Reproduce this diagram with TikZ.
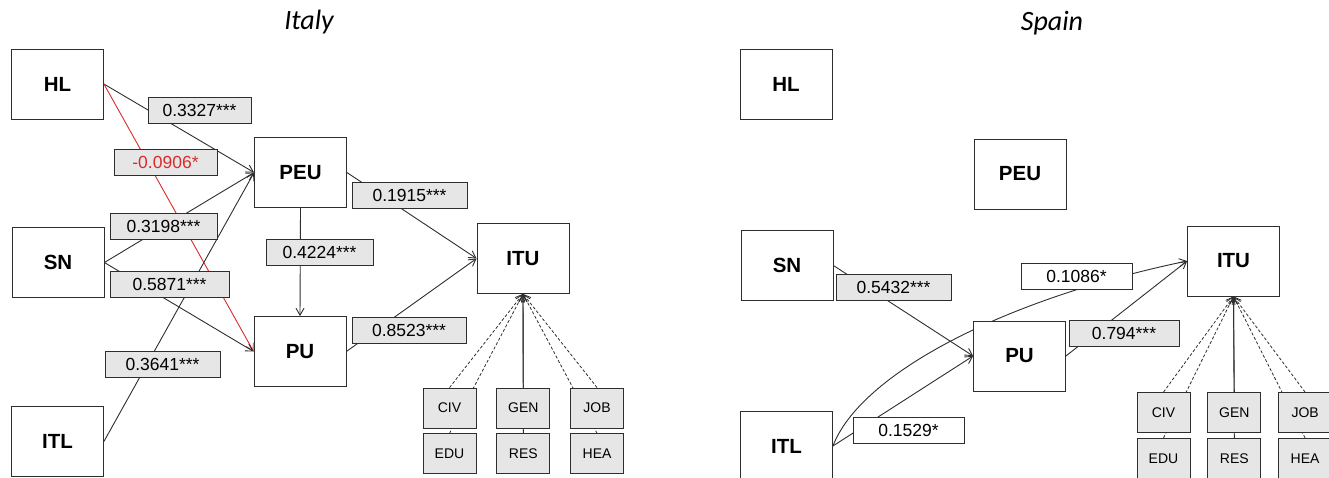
\documentclass[tikz,border=0pt]{standalone}
\usepackage{fontspec}
\setmainfont{Liberation Sans}
\newfontfamily\titlefont{Carlito}
\usetikzlibrary{positioning}
\usetikzlibrary{backgrounds}
\usetikzlibrary{arrows.meta}
\definecolor{coeffill}{HTML}{E6E6E6}
\definecolor{linegray}{HTML}{2E2E2E}
\definecolor{negred}{HTML}{D92B2B}
\tikzset{
  latent/.style={draw=linegray, fill=white, line width=0.8pt, rectangle, minimum width=92pt, minimum height=70pt, inner sep=0pt, font=\fontsize{20.5}{22}\selectfont\bfseries},
  coef/.style={draw=linegray, fill=coeffill, line width=0.8pt, rectangle, minimum width=110pt, minimum height=26pt, inner sep=0pt, font=\fontsize{17.5}{19}\selectfont},
  indicator/.style={draw=linegray, fill=coeffill, line width=0.8pt, rectangle, minimum width=53pt, minimum height=40pt, inner sep=0pt, font=\fontsize{14}{15}\selectfont},
  effect/.style={->, draw=linegray, line width=0.9pt},
  loading/.style={->, draw=linegray, line width=0.8pt, dash pattern=on 3pt off 2pt},
  countrytitle/.style={font=\titlefont\itshape\fontsize{28}{30}\selectfont},
}
\begin{document}
\begin{tikzpicture}[x=1pt, y=-1pt, >={Straight Barb[length=7pt,width=8pt]}]
\useasboundingbox (0,0) rectangle (1329,477);
\node[countrytitle] (titleIT) at (309,22) {Italy};
\node[latent] (HL) at (57.5,84) {HL};
\node[latent] (PEU) at (300.5,172.5) {PEU};
\node[latent] (SN) at (58,262.5) {SN};
\node[latent] (PU) at (300,351.5) {PU};
\node[latent] (ITL) at (57.5,441.5) {ITL};
\node[latent] (ITU) at (523,258.5) {ITU};
\node[indicator] (CIV) at (449.5,408) {CIV};
\node[indicator] (GEN) [right=20pt of CIV] {GEN};
\node[indicator] (JOB) [right=20pt of GEN] {JOB};
\node[indicator] (EDU) [below=5pt of CIV] {EDU};
\node[indicator] (RES) [below=5pt of GEN] {RES};
\node[indicator] (HEA) [below=5pt of JOB] {HEA};
\node[countrytitle] (titleES) at (1052,23) {Spain};
\node[latent] (HLsp) at (786,84) {HL};
\node[latent] (PEUsp) at (1020,174) {PEU};
\node[latent] (SNsp) at (787,265.5) {SN};
\node[latent] (PUsp) at (1019.5,356) {PU};
\node[latent] (ITLsp) at (786.5,446) {ITL};
\node[latent] (ITUsp) at (1233.5,261) {ITU};
\node[indicator] (CIVsp) at (1163.5,412.5) {CIV};
\node[indicator] (GENsp) [right=17pt of CIVsp] {GEN};
\node[indicator] (JOBsp) [right=17pt of GENsp] {JOB};
\node[indicator] (EDUsp) [below=5pt of CIVsp] {EDU};
\node[indicator] (RESsp) [below=5pt of GENsp] {RES};
\node[indicator] (HEAsp) [below=5pt of JOBsp] {HEA};
\begin{scope}[on background layer]
\draw[effect] (HL.east) -- (PEU.west);
\draw[effect, draw=negred] (HL.east) -- (PU.west);
\draw[effect] (SN.east) -- (PEU.west);
\draw[effect] (SN.east) -- (PU.west);
\draw[effect] (ITL.east) -- (PEU.west);
\draw[effect] (PEU.south) -- (PU.north);
\draw[effect] (PEU.east) -- (ITU.west);
\draw[effect] (PU.east) -- (ITU.west);
\foreach \ind in {CIV,EDU,JOB,HEA} \draw[loading] (\ind.north) -- (ITU.south);
\foreach \ind in {GEN,RES} \draw[effect] (\ind.north) -- (ITU.south);
\draw[effect] (SNsp.east) -- (PUsp.west);
\draw[effect] (ITLsp.east) -- (PUsp.west);
\draw[effect] (ITLsp.east) .. controls (860,375) and (1000,300) .. (ITUsp.west);
\draw[effect] (PUsp.east) -- (ITUsp.west);
\foreach \ind in {CIVsp,EDUsp,JOBsp,HEAsp} \draw[loading] (\ind.north) -- (ITUsp.south);
\foreach \ind in {GENsp,RESsp} \draw[effect] (\ind.north) -- (ITUsp.south);
\end{scope}
\node[coef, minimum width=103pt] (bHLPEU) at (199.5,110.5) {0.3327***};
\node[coef, minimum width=103pt, text=negred] (bHLPU) at (165.5,162) {-0.0906*};
\node[coef, minimum width=107pt] (bSNPEU) at (163.5,226) {0.3198***};
\node[coef, minimum width=107pt] (bPEUPU) at (319.5,252) {0.4224***};
\node[coef, minimum width=119pt] (bSNPU) at (169.5,284.5) {0.5871***};
\node[coef, minimum width=115pt] (bITLPEU) at (162.5,364) {0.3641***};
\node[coef, minimum width=115pt] (bPEUITU) at (409.5,195.5) {0.1915***};
\node[coef, minimum width=114pt] (bPUITU) at (409,330.5) {0.8523***};
\node[coef, minimum width=115pt] (bSNPUsp) at (893.5,287) {0.5432***};
\node[coef, minimum width=111pt, fill=white] (bITLITUsp) at (1076.5,276.5) {0.1086*};
\node[coef] (bPUITUsp) at (1124,333) {0.794***};
\node[coef, minimum width=111pt, fill=white] (bITLPUsp) at (908.5,430) {0.1529*};
\end{tikzpicture}
\end{document}
